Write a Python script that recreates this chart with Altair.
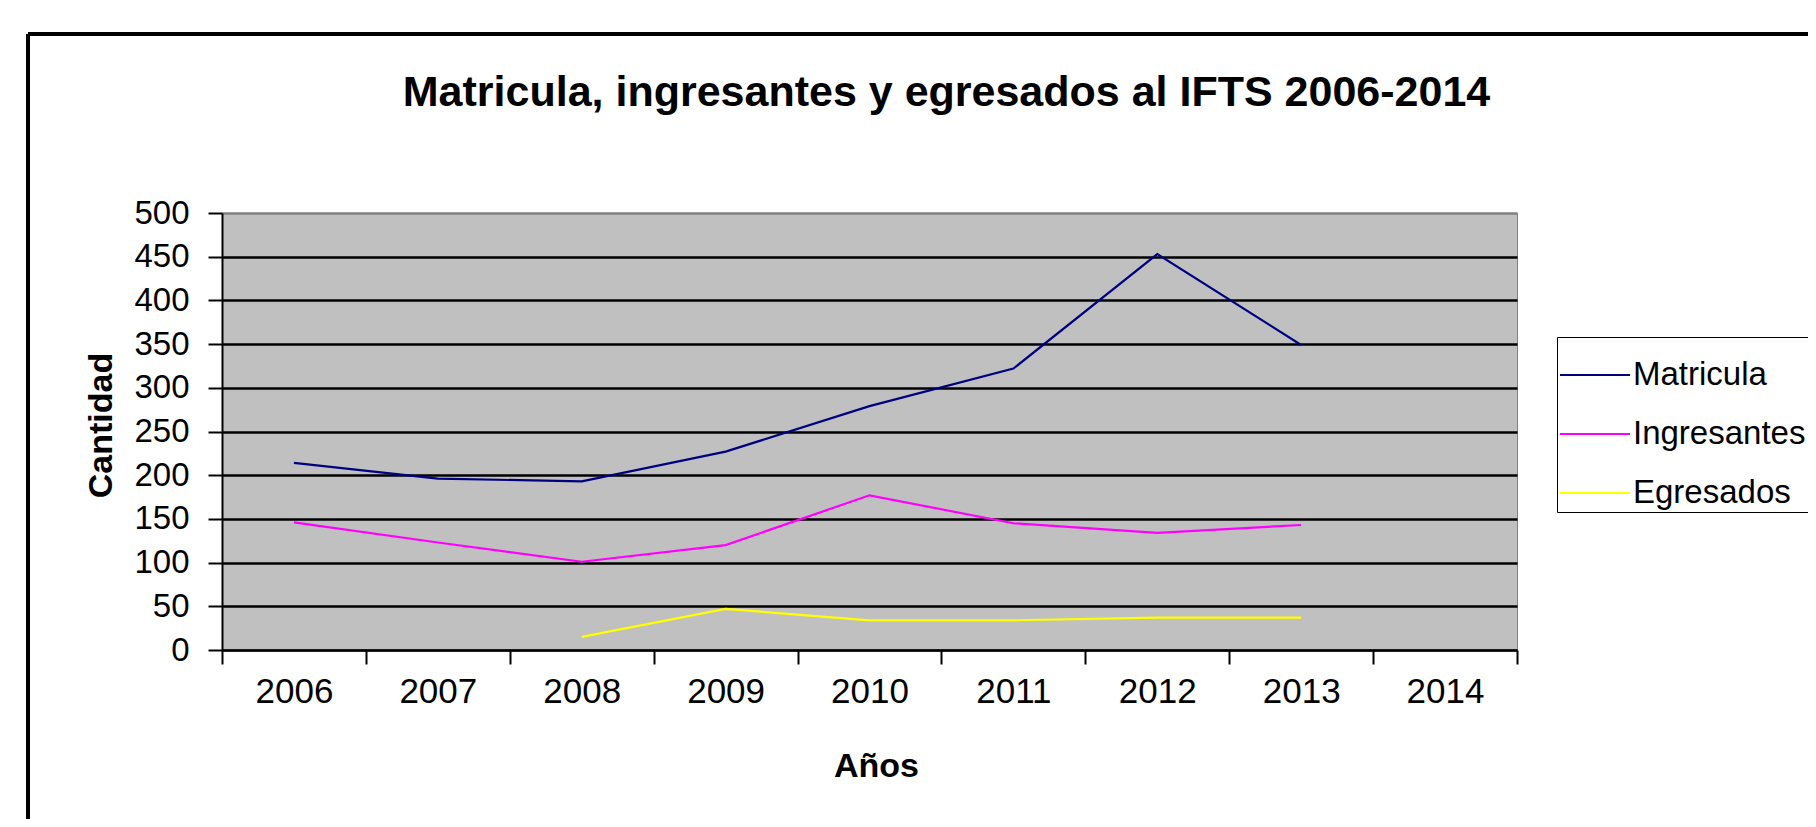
import altair as alt
import pandas as pd

years = ["2006", "2007", "2008", "2009", "2010", "2011", "2012", "2013", "2014"]
series = ["Matricula", "Ingresantes", "Egresados"]
colors = ["#000080", "#FF00FF", "#FFFF00"]
matricula = [214, 196, 193, 227, 279, 322, 453, 349, None]
ingresantes = [146, 123, 101, 120, 177, 145, 134, 143, None]
egresados = [None, None, 15, 47, 34, 34, 37, 37, None]

rows = []
for name, vals in zip(series, [matricula, ingresantes, egresados]):
    for y, v in zip(years, vals):
        if v is not None:
            rows.append({"Año": y, "Serie": name, "Cantidad": v})
df = pd.DataFrame(rows)

FONT = "Liberation Sans"
W, H = 1295, 437

lines = alt.Chart(df).mark_line(strokeWidth=2.2).encode(
    x=alt.X("Año:O", scale=alt.Scale(domain=years, paddingInner=0, paddingOuter=0),
            axis=alt.Axis(title="Años", labelAngle=0, tickBand="extent", tickSize=14,
                          labelPadding=10, labelFontSize=35, labelColor="black",
                          titleFontSize=34, titleFontWeight="bold", titleColor="black",
                          titleY=116, titleX=654, titleBaseline="middle",
                          domainColor="black", domainWidth=2, tickColor="black", tickWidth=2,
                          grid=False)),
    y=alt.Y("Cantidad:Q", scale=alt.Scale(domain=[0, 500], nice=False),
            axis=alt.Axis(title="Cantidad", values=list(range(0, 501, 50)), tickSize=14,
                          labelPadding=19, labelFontSize=33, labelColor="black",
                          titleFontSize=34, titleFontWeight="bold", titleColor="black",
                          titleX=-121, titleY=212, titleBaseline="middle",
                          domainColor="black", domainWidth=2, tickColor="black", tickWidth=2,
                          grid=True,
                          gridColor=alt.condition("datum.value == 500", alt.value("#808080"), alt.value("black")),
                          gridWidth=2.5)),
    color=alt.Color("Serie:N", scale=alt.Scale(domain=series, range=colors),
                    legend=alt.Legend(title=None, orient="none", legendX=1335, legendY=124,
                                      symbolType="stroke", symbolSize=4900, symbolStrokeWidth=2,
                                      labelFontSize=33, labelColor="black", rowPadding=6,
                                      labelOffset=2, labelLimit=400,
                                      strokeColor="black", padding=2, fillColor="white")),
)

top_border = alt.Chart(df).mark_rule(color="black", strokeWidth=3).encode(
    x=alt.value(-194), x2=alt.value(1700), y=alt.value(-179))
left_border = alt.Chart(df).mark_rule(color="black", strokeWidth=3).encode(
    x=alt.value(-194), y=alt.value(-179), y2=alt.value(700))

chart = alt.layer(lines, top_border, left_border).properties(
    width=W, height=H,
    title=alt.TitleParams("Matricula, ingresantes y egresados al IFTS 2006-2014",
                          fontSize=43, fontWeight="bold", font=FONT, color="black",
                          anchor="middle", dx=77, offset=0, dy=82),
    padding={"left": 214, "top": 205, "right": 291, "bottom": 169},
    autosize=alt.AutoSizeParams(type="none"),
).configure(font=FONT).configure_view(fill="#C0C0C0", stroke="#808080", strokeWidth=1)

chart.save("out.html", embed_options={"renderer": "svg", "actions": False})
